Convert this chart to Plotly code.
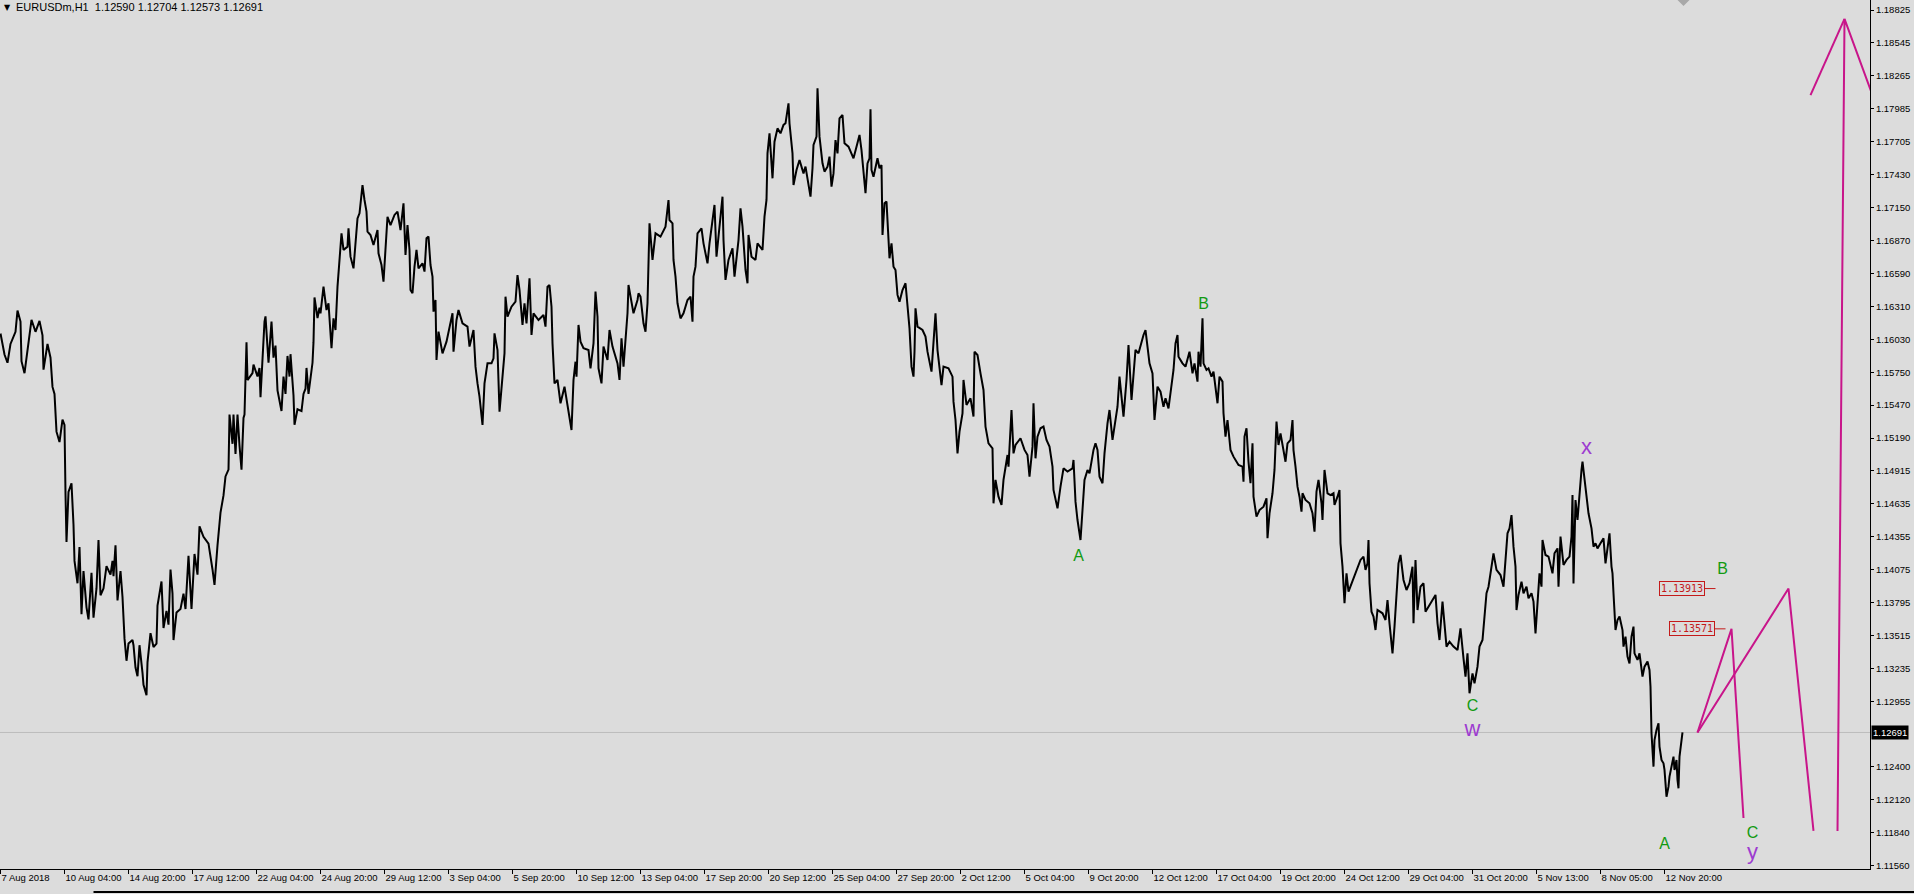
import plotly.graph_objects as go

# ---------------- data ----------------
symbol = "EURUSDm,H1"
last_bar_ohlc = ["1.12590", "1.12704", "1.12573", "1.12691"]
last_close = 1.12691

# hourly bar index (1 bar per pixel column) and traced price path
bar_idx = [
    0, 4, 7, 10, 15, 17, 20, 21, 24, 28, 31, 35, 39, 42, 43, 47, 50, 52, 54, 56, 59, 62, 64, 65, 66, 68, 71, 73, 74, 77,
    79, 81, 83, 86, 88, 91, 93, 96, 98, 100, 103, 106, 110, 112, 113, 115, 117, 120, 122, 124, 126, 128, 132, 133, 135,
    137, 139, 142, 143, 146, 147, 150, 153, 156, 157, 161, 163, 166, 168, 170, 172, 173, 176, 180, 183, 185, 188, 191,
    194, 197, 199, 203, 208, 212, 214, 217, 220, 223, 225, 228, 229, 232, 233, 235, 237, 239, 241, 243, 244, 246, 247,
    252, 253, 257, 259, 260, 262, 264, 265, 268, 271, 273, 275, 277, 281, 283, 285, 287, 289, 290, 293, 294, 297, 301,
    303, 305, 306, 308, 312, 313, 314, 317, 319,
    320, 323, 326, 328, 331, 333, 335, 337, 339, 341, 343, 347, 348, 350, 353, 355, 357, 359, 362, 364, 366, 367, 370,
    373, 377, 378, 381, 383, 386, 387, 390, 394, 397, 400, 403, 405, 407, 409, 410, 412, 414, 416, 418, 422, 424, 426,
    428, 430, 432, 433, 435, 436, 438, 442, 446, 449, 452, 453, 456, 458, 462, 467, 469, 473, 475, 477, 479, 482, 484,
    487, 491, 493, 494, 497, 499, 502, 504, 505, 507, 511, 515, 517, 519, 522, 524, 526, 529, 531, 533, 538, 543, 545,
    547, 549, 551, 552, 554, 557, 560, 564, 567, 571, 573, 575, 576, 578, 580, 583, 588, 590, 593, 595, 597, 598, 601,
    603, 607, 609, 612, 615, 617, 619, 621, 623, 625, 627, 628, 630, 633, 637, 638,
    640, 643, 645, 647, 649, 652, 655, 660, 665, 668, 669, 672, 673, 675, 677, 680, 683, 687, 690, 692, 693, 695, 697,
    701, 703, 707, 709, 712, 714, 716, 718, 720, 722, 723, 725, 728, 732, 734, 737, 738, 740, 742, 745, 747, 748, 751,
    755, 757, 762, 764, 766, 767, 769, 771, 772, 774, 777, 780, 783, 785, 788, 789, 792, 793, 796, 799, 803, 805, 807,
    810, 812, 813, 816, 817, 819, 822, 824, 827, 829, 831, 833, 835, 837, 839, 842, 844, 848, 853, 856, 859, 861, 863,
    865, 867, 869, 870, 871, 873, 877, 879, 881, 882, 884, 886, 887, 889, 891, 893, 895, 897, 899, 902, 905, 907, 909,
    911, 913, 914, 915, 917, 922, 925, 927, 931, 933, 935, 937, 939, 941, 943, 948, 952, 953, 955, 957, 959,
    962, 963, 966, 970, 973, 974, 977, 980, 983, 985, 988, 992, 993, 995, 998, 1001, 1003, 1007, 1008, 1011, 1013, 1015,
    1020, 1024, 1027, 1029, 1032, 1033, 1035, 1037, 1040, 1043, 1046, 1049, 1052, 1053, 1057, 1060, 1063, 1067, 1072,
    1073, 1075, 1077, 1080, 1082, 1084, 1087, 1089, 1093, 1095, 1097, 1099, 1102, 1104, 1107, 1109, 1112, 1114, 1117,
    1119, 1121, 1123, 1126, 1128, 1131, 1133, 1135, 1138, 1141, 1143, 1145, 1147, 1149, 1152, 1153, 1154, 1157, 1160,
    1163, 1165, 1168, 1171, 1173, 1175, 1177, 1178, 1182, 1185, 1189, 1192, 1194, 1197, 1198, 1200, 1202, 1203, 1206,
    1208, 1211, 1213, 1215, 1217, 1219, 1222, 1223, 1225, 1227, 1230, 1233, 1238, 1242, 1243, 1244, 1246, 1248, 1250,
    1252, 1253, 1256, 1259, 1263, 1266, 1267, 1269, 1272, 1274, 1276, 1278,
    1280, 1283, 1285, 1287, 1290, 1292, 1293, 1295, 1297, 1299, 1301, 1302, 1305, 1309, 1312, 1314, 1316, 1318, 1321,
    1322, 1324, 1327, 1330, 1333, 1334, 1337, 1339, 1340, 1342, 1344, 1346, 1348, 1351, 1354, 1357, 1360, 1363, 1365,
    1367, 1368, 1369, 1371, 1373, 1375, 1377, 1382, 1385, 1387, 1389, 1392, 1394, 1396, 1398, 1400, 1403, 1406, 1409,
    1412, 1413, 1415, 1417, 1420, 1423, 1425, 1428, 1432, 1435, 1437, 1439, 1442, 1444, 1446, 1449, 1453, 1457, 1460,
    1463, 1465, 1467, 1469, 1472, 1474, 1477, 1479, 1482, 1484, 1486, 1488, 1491, 1493, 1496, 1500, 1503, 1505, 1507,
    1509, 1511, 1513, 1515, 1516, 1518, 1521, 1523, 1526, 1528, 1531, 1533, 1535, 1537, 1539, 1541, 1542, 1545, 1548,
    1552, 1554, 1557, 1558, 1560, 1563, 1566, 1569, 1571, 1572, 1573, 1575, 1577, 1579, 1581, 1582, 1584, 1586, 1588,
    1591, 1593, 1595, 1597, 1600, 1603, 1605, 1607, 1609,
    1611, 1612, 1613, 1615, 1617, 1619, 1622, 1623, 1625, 1627, 1629, 1631, 1633, 1634, 1637, 1639, 1642, 1644, 1647,
    1649, 1650, 1651, 1653, 1654, 1656, 1658, 1659, 1661, 1663, 1664, 1666, 1668, 1669, 1671, 1673, 1674, 1676, 1677,
    1678, 1679, 1681, 1682,
]
price = [
    1.16078, 1.15900, 1.15830, 1.15990, 1.16093, 1.16274, 1.16180, 1.15844, 1.15742, 1.16005, 1.16195, 1.16093, 1.16186,
    1.16063, 1.15771, 1.15990, 1.15873, 1.15625, 1.15566, 1.15245, 1.15157, 1.15347, 1.15303, 1.14718, 1.14309, 1.14733,
    1.14806, 1.14455, 1.14148, 1.13958, 1.14265, 1.13695, 1.14061, 1.13754, 1.13651, 1.14046, 1.13666, 1.13914, 1.14324,
    1.13856, 1.13914, 1.14104, 1.14031, 1.14148, 1.14017, 1.14280, 1.13812, 1.14061, 1.13841, 1.13490, 1.13300, 1.13446,
    1.13476, 1.13432, 1.13242, 1.13169, 1.13432, 1.13198, 1.13096, 1.13008, 1.13286, 1.13534, 1.13417, 1.13446, 1.13768,
    1.13973, 1.13578, 1.13724, 1.13607, 1.14075, 1.13870, 1.13476, 1.13710, 1.13739, 1.13870, 1.13739, 1.14192, 1.13739,
    1.14207, 1.14031, 1.14441, 1.14353, 1.14294, 1.14075, 1.13944, 1.14280, 1.14558, 1.14704, 1.14865, 1.14923, 1.15391,
    1.15142, 1.15391, 1.15055, 1.15391, 1.15128, 1.14923, 1.15362, 1.15391, 1.16005, 1.15683, 1.15742, 1.15815, 1.15713,
    1.15786, 1.15537, 1.15917, 1.16180, 1.16224, 1.15830, 1.16180, 1.15873, 1.15976, 1.15596, 1.15420, 1.15713, 1.15566,
    1.15888, 1.15713, 1.15903, 1.15552, 1.15303, 1.15435, 1.15420, 1.15566, 1.15610, 1.15786, 1.15566, 1.15830, 1.16005,
    1.16385, 1.16210, 1.16297,
    1.16250, 1.16476, 1.16278, 1.16335, 1.15953, 1.16207, 1.16108, 1.16476, 1.16745, 1.16929, 1.16788, 1.16816, 1.16971,
    1.16731, 1.16632, 1.16872, 1.17056, 1.17099, 1.17339, 1.17212, 1.17113, 1.16943, 1.16915, 1.16830, 1.16957, 1.16759,
    1.16660, 1.16519, 1.16872, 1.17070, 1.16999, 1.17085, 1.17113, 1.16957, 1.17184, 1.16745, 1.16999, 1.16788, 1.16448,
    1.16420, 1.16646, 1.16788, 1.16632, 1.16674, 1.16604, 1.16887, 1.16901, 1.16660, 1.16561, 1.16264, 1.16363, 1.15854,
    1.16094, 1.15910, 1.16009, 1.16136, 1.16250, 1.15924, 1.16193, 1.16278, 1.16165, 1.16137, 1.15967, 1.16108, 1.15797,
    1.15655, 1.15542, 1.15302, 1.15655, 1.15825, 1.15825, 1.15868, 1.16080, 1.15938, 1.15415, 1.15712, 1.15910, 1.16391,
    1.16221, 1.16306, 1.16349, 1.16575, 1.16448, 1.16151, 1.16335, 1.16165, 1.16547, 1.16066, 1.16250, 1.16193, 1.16236,
    1.16137, 1.16476, 1.16490, 1.16306, 1.15995, 1.15655, 1.15684, 1.15486, 1.15627, 1.15458, 1.15259, 1.15684, 1.15839,
    1.15712, 1.16151, 1.16009, 1.15953, 1.15938, 1.15783, 1.15995, 1.16434, 1.16221, 1.15783, 1.15655, 1.15967, 1.15854,
    1.16108, 1.15967, 1.15882, 1.15825, 1.15684, 1.16038, 1.15797, 1.15995, 1.16250, 1.16490, 1.16391, 1.16250, 1.16363,
    1.16420,
    1.16391, 1.16165, 1.16094, 1.16335, 1.17014, 1.16703, 1.16929, 1.16901, 1.16986, 1.17212, 1.17042, 1.17014, 1.16703,
    1.16561, 1.16335, 1.16207, 1.16250, 1.16363, 1.16391, 1.16179, 1.16561, 1.16646, 1.16929, 1.16971, 1.16844, 1.16674,
    1.16844, 1.17028, 1.17170, 1.16731, 1.16901, 1.17099, 1.17240, 1.16872, 1.16533, 1.16703, 1.16802, 1.16561, 1.16788,
    1.16872, 1.17141, 1.16986, 1.16618, 1.16505, 1.16915, 1.16731, 1.16703, 1.16844, 1.16788, 1.17071, 1.17212, 1.17608,
    1.17778, 1.17467, 1.17396, 1.17707, 1.17820, 1.17778, 1.17849, 1.17863, 1.18033, 1.17863, 1.17608, 1.17339, 1.17467,
    1.17551, 1.17438, 1.17495, 1.17382, 1.17240, 1.17481, 1.17679, 1.17750, 1.18160, 1.17750, 1.17523, 1.17453, 1.17495,
    1.17580, 1.17325, 1.17438, 1.17721, 1.17608, 1.17905, 1.17934, 1.17693, 1.17665, 1.17566, 1.17665, 1.17764, 1.17636,
    1.17438, 1.17269, 1.17523, 1.17566, 1.17982, 1.17467, 1.17410, 1.17566, 1.17481, 1.17509, 1.16915, 1.17184, 1.17198,
    1.16986, 1.16717, 1.16844, 1.16646, 1.16618, 1.16406, 1.16349, 1.16448, 1.16505, 1.16306, 1.16122, 1.15797, 1.15712,
    1.15924, 1.16292, 1.16137, 1.16108, 1.16052, 1.15924, 1.15755, 1.16052, 1.16250, 1.15938, 1.15783, 1.15641, 1.15797,
    1.15783, 1.15712, 1.15500, 1.15344, 1.15061, 1.15245,
    1.15401, 1.15684, 1.15472, 1.15528, 1.15373, 1.15924, 1.15896, 1.15740, 1.15599, 1.15288, 1.15146, 1.15104, 1.14637,
    1.14835, 1.14693, 1.14623, 1.14835, 1.15047, 1.14948, 1.15429, 1.15061, 1.15132, 1.15189, 1.15090, 1.15047, 1.14863,
    1.15118, 1.15486, 1.15019, 1.15203, 1.15274, 1.15288, 1.15175, 1.15118, 1.14948, 1.14750, 1.14594, 1.14778, 1.14934,
    1.14906, 1.14934, 1.15005, 1.14651, 1.14495, 1.14325, 1.14580, 1.14835, 1.14920, 1.14891, 1.15090, 1.15146, 1.15090,
    1.14863, 1.14807, 1.15061, 1.15316, 1.15429, 1.15175, 1.15288, 1.15457, 1.15712, 1.15542, 1.15373, 1.15684, 1.15981,
    1.15514, 1.15769, 1.15939, 1.15910, 1.16009, 1.16066, 1.16108, 1.15939, 1.15825, 1.15740, 1.15571, 1.15344, 1.15627,
    1.15585, 1.15457, 1.15528, 1.15443, 1.15627, 1.15769, 1.15995, 1.16066, 1.15882, 1.15825, 1.15797, 1.15924, 1.15740,
    1.15825, 1.15670, 1.15924, 1.15797, 1.16207, 1.15825, 1.15769, 1.15783, 1.15712, 1.15755, 1.15599, 1.15486, 1.15712,
    1.15670, 1.15401, 1.15203, 1.15344, 1.15090, 1.15033, 1.14962, 1.14948, 1.14821, 1.15203, 1.15274, 1.14991, 1.14807,
    1.15146, 1.14693, 1.14523, 1.14580, 1.14608, 1.14679, 1.14340, 1.14552, 1.14722, 1.14920, 1.15330, 1.15132,
    1.15231, 1.15089, 1.14990, 1.15146, 1.15174, 1.15344, 1.15089, 1.14948, 1.14778, 1.14693, 1.14566, 1.14722, 1.14665,
    1.14637, 1.14552, 1.14396, 1.14736, 1.14835, 1.14637, 1.14495, 1.14920, 1.14722, 1.14707, 1.14722, 1.14623, 1.14693,
    1.14750, 1.14297, 1.14099, 1.13788, 1.14042, 1.13887, 1.13958, 1.14014, 1.14085, 1.14156, 1.14184, 1.14071, 1.14127,
    1.14325, 1.13958, 1.13717, 1.13675, 1.13561, 1.13731, 1.13703, 1.13646, 1.13816, 1.13618, 1.13363, 1.13590, 1.13873,
    1.14127, 1.14198, 1.13986, 1.13901, 1.13958, 1.14099, 1.13618, 1.14156, 1.13731, 1.13929, 1.13958, 1.13717, 1.13759,
    1.13816, 1.13859, 1.13618, 1.13476, 1.13802, 1.13590, 1.13420, 1.13462, 1.13420, 1.13391, 1.13575, 1.13321, 1.13165,
    1.13363, 1.13024, 1.13193, 1.13108, 1.13250, 1.13420, 1.13476, 1.13674, 1.13873, 1.13929, 1.14099, 1.14212, 1.14071,
    1.14028, 1.13929, 1.14156, 1.14382, 1.14424, 1.14537, 1.14269, 1.14099, 1.13731, 1.13859, 1.13972, 1.13873, 1.13929,
    1.13830, 1.13873, 1.13802, 1.13533, 1.13788, 1.14042, 1.13929, 1.14325, 1.14198, 1.14184, 1.14042, 1.14212, 1.14254,
    1.13929, 1.14354, 1.14113, 1.14156, 1.14184, 1.14354, 1.14708, 1.13957, 1.14665, 1.14495, 1.14736, 1.14920, 1.14990,
    1.14849, 1.14665, 1.14552, 1.14424, 1.14269, 1.14297, 1.14254, 1.14297, 1.14339, 1.14127, 1.14240, 1.14382,
    1.14100, 1.14042, 1.13873, 1.13561, 1.13646, 1.13675, 1.13561, 1.13420, 1.13505, 1.13335, 1.13278, 1.13505, 1.13590,
    1.13363, 1.13307, 1.13363, 1.13165, 1.13250, 1.13293, 1.13222, 1.13080, 1.12684, 1.12401, 1.12627, 1.12712, 1.12769,
    1.12571, 1.12458, 1.12430, 1.12373, 1.12146, 1.12231, 1.12316, 1.12401, 1.12486, 1.12373, 1.12458, 1.12288, 1.12217,
    1.12486, 1.12627, 1.12691,
]

# time axis labels (every 64 hourly bars)
x_tick_bars = [0, 64, 128, 192, 256, 320, 384, 448, 512, 576, 640, 704, 768, 832, 896, 960, 1024, 1088, 1152, 1216,
               1280, 1344, 1408, 1472, 1536, 1600, 1664]
x_tick_text = ["7 Aug 2018", "10 Aug 04:00", "14 Aug 20:00", "17 Aug 12:00", "22 Aug 04:00", "24 Aug 20:00",
               "29 Aug 12:00", "3 Sep 04:00", "5 Sep 20:00", "10 Sep 12:00", "13 Sep 04:00", "17 Sep 20:00",
               "20 Sep 12:00", "25 Sep 04:00", "27 Sep 20:00", "2 Oct 12:00", "5 Oct 04:00", "9 Oct 20:00",
               "12 Oct 12:00", "17 Oct 04:00", "19 Oct 20:00", "24 Oct 12:00", "29 Oct 04:00", "31 Oct 20:00",
               "5 Nov 13:00", "8 Nov 05:00", "12 Nov 20:00"]

# price axis labels
y_tick_text = ["1.18825", "1.18545", "1.18265", "1.17985", "1.17705", "1.17430", "1.17150", "1.16870", "1.16590",
               "1.16310", "1.16030", "1.15750", "1.15470", "1.15190", "1.14915", "1.14635", "1.14355", "1.14075",
               "1.13795", "1.13515", "1.13235", "1.12955", "1.12400", "1.12120", "1.11840", "1.11560"]
y_tick_vals = [float(t) for t in y_tick_text]
y_range = [1.11532, 1.18910]

# Elliott wave labels
green_text = ["A", "B", "C", "A", "B", "C"]
green_bar = [1078, 1203, 1472, 1664, 1722, 1752]
green_price = [1.14181, 1.16321, 1.12908, 1.11736, 1.14071, 1.11829]
purple_text = ["w", "x", "y"]
purple_bar = [1472, 1586, 1752]
purple_price = [1.12705, 1.15105, 1.11660]

# projected paths (drawn trend lines)
proj1_bar = [1697, 1731, 1743]
proj1_price = [1.12691, 1.13571, 1.11965]
proj2_bar = [1697, 1788, 1813]
proj2_price = [1.12691, 1.13913, 1.11855]
proj3_bar = [1837, 1844, 1880]
proj3_price = [1.11855, 1.18749, 1.17917]
proj4_bar = [1810, 1844]
proj4_price = [1.18103, 1.18749]

# price labels
plabel_price = [1.13913, 1.13571]
plabel_bar = [1704, 1714]
plabel_tick_end = [1715, 1725]

GREEN = "#129a12"
PURPLE = "#9d3bd0"
MAGENTA = "#c8158a"
LABEL_RED = "#c41a1a"
BG = "#dcdcdc"
FONT = "Liberation Sans, Arial, sans-serif"

fig = go.Figure()

fig.add_trace(go.Scatter(x=bar_idx, y=price, mode="lines",
                         line=dict(color="black", width=2), hoverinfo="skip"))

for bx, py in [(proj1_bar, proj1_price), (proj2_bar, proj2_price),
               (proj3_bar, proj3_price), (proj4_bar, proj4_price)]:
    fig.add_trace(go.Scatter(x=bx, y=py, mode="lines",
                             line=dict(color=MAGENTA, width=2), hoverinfo="skip"))

fig.add_trace(go.Scatter(x=green_bar, y=green_price, mode="text", text=green_text,
                         textposition="middle center", cliponaxis=False,
                         textfont=dict(family=FONT, size=16, color=GREEN), hoverinfo="skip"))
fig.add_trace(go.Scatter(x=purple_bar, y=purple_price, mode="text", text=purple_text,
                         textposition="middle center", cliponaxis=False,
                         textfont=dict(family=FONT, size=22, color=PURPLE), hoverinfo="skip"))

shapes = []
# current price line
shapes.append(dict(type="line", xref="paper", x0=0, x1=1, yref="y", y0=last_close, y1=last_close,
                   line=dict(color="#bdbdbd", width=1), layer="below"))
# price label tick lines
for b, p, e in zip(plabel_bar, plabel_price, plabel_tick_end):
    shapes.append(dict(type="line", xref="x", x0=b, x1=e, yref="y", y0=p, y1=p,
                       line=dict(color=LABEL_RED, width=1)))
# shift marker triangle at top
shapes.append(dict(type="path", xref="x", yref="paper",
                   path="M 1677,1 L 1689,1 L 1683,0.993 Z",
                   fillcolor="#a8a8a8", line=dict(width=0)))
# window bottom border
shapes.append(dict(type="line", xref="paper", x0=0.05, x1=1.03, yref="paper", y0=-0.0265, y1=-0.0265,
                   line=dict(color="black", width=2)))

annotations = []
for b, p in zip(plabel_bar, plabel_price):
    annotations.append(dict(x=b, y=p, xref="x", yref="y", text=f"{p:.5f}", showarrow=False,
                            xanchor="right", yanchor="middle",
                            font=dict(family="DejaVu Sans Mono, monospace", size=10, color=LABEL_RED),
                            bordercolor=LABEL_RED, borderwidth=1, borderpad=1))
# current price tag on axis
annotations.append(dict(x=1, y=last_close, xref="paper", yref="y", text=f"{last_close:.5f}",
                        showarrow=False, xanchor="left", yanchor="middle", xshift=1,
                        font=dict(family=FONT, size=9.5, color="white"),
                        bgcolor="black", borderpad=1))
# header
annotations.append(dict(x=0, y=1, xref="paper", yref="paper", text="\u25BC", showarrow=False,
                        xanchor="left", yanchor="middle", xshift=2, yshift=-7,
                        font=dict(family="DejaVu Sans", size=8, color="black")))
annotations.append(dict(x=0, y=1, xref="paper", yref="paper",
                        text=symbol + "&nbsp;&nbsp;" + " ".join(last_bar_ohlc), showarrow=False,
                        xanchor="left", yanchor="middle", xshift=14, yshift=-7,
                        font=dict(family=FONT, size=11, color="black")))

fig.update_layout(
    width=1914, height=894,
    margin=dict(l=0, r=44, t=0, b=25, autoexpand=False),
    paper_bgcolor=BG, plot_bgcolor=BG,
    showlegend=False,
    font=dict(family=FONT, size=9.5, color="black"),
    xaxis=dict(range=[-0.5, 1869.5], tickmode="array", tickvals=x_tick_bars, ticktext=x_tick_text,
               ticks="outside", ticklen=4, tickcolor="black", tickwidth=1, tickangle=0,
               ticklabelposition="outside right", tickfont=dict(size=9.5), automargin=False,
               showline=True, linecolor="black", linewidth=1,
               showgrid=False, zeroline=False, fixedrange=True),
    yaxis=dict(side="right", range=y_range, tickmode="array", tickvals=y_tick_vals, ticktext=y_tick_text,
               ticks="outside", ticklen=3, tickcolor="black", tickwidth=1, tickfont=dict(size=9.5),
               automargin=False, showline=True, linecolor="black", linewidth=1,
               showgrid=False, zeroline=False, fixedrange=True),
    shapes=shapes,
    annotations=annotations,
)

fig.write_html(
    "out.html",
    config={"displayModeBar": False},
    post_script="document.body.style.margin='0';document.body.style.overflow='hidden';"
                "document.documentElement.style.background='#dcdcdc';",
)
